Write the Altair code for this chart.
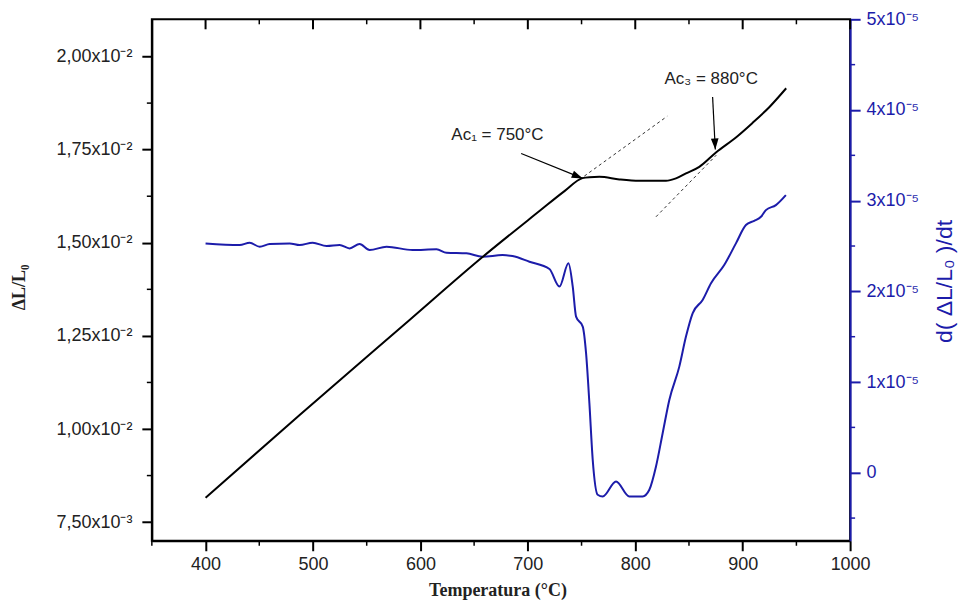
import altair as alt
import pandas as pd

# ---------------- data ----------------
# ΔL/L0 (black curve, left axis)
dl_temp = [400.0, 487.6, 589.9, 657.8, 710.8, 734.1, 750.8, 757.3, 766.6, 785.2,
           803.8, 828.6, 837.9, 847.2, 859.6, 875.4, 894.0, 908.9, 924.7, 940.5]
dl_val = [0.008153, 0.010379, 0.012927, 0.014617, 0.015851, 0.016387, 0.016736,
          0.016762, 0.016770, 0.016700, 0.016663, 0.016663, 0.016728, 0.016862,
          0.017039, 0.017433, 0.017835, 0.018211, 0.018640, 0.019149]

# d(ΔL/L0)/dt (blue curve, right axis) in units of 1e-5
dt_temp = [400.0, 431.8, 441.1, 450.4, 459.7, 478.3, 487.6, 499.7, 512.7, 524.8,
           534.1, 543.4, 552.7, 568.5, 592.7, 615.0, 624.3, 642.9, 657.8, 676.4,
           685.7, 701.5, 720.1, 729.4, 737.8, 741.8, 744.9, 751.1, 754.2, 757.3,
           760.4, 765.0, 769.7, 782.1, 794.5, 806.9, 813.1, 819.3, 825.5, 831.7,
           841.0, 847.2, 853.4, 862.7, 870.5, 882.8, 893.7, 903.0, 910.7, 917.0,
           921.6, 930.9, 940.2]
dt_val = [2.529, 2.511, 2.536, 2.492, 2.522, 2.529, 2.511, 2.536, 2.500, 2.511,
          2.474, 2.522, 2.456, 2.492, 2.456, 2.463, 2.426, 2.419, 2.382, 2.400,
          2.389, 2.327, 2.246, 2.053, 2.309, 2.051, 1.721, 1.611, 1.318, 0.767,
          0.142, -0.243, -0.262, -0.097, -0.262, -0.262, -0.188, 0.069, 0.436, 0.803,
          1.170, 1.501, 1.758, 1.905, 2.089, 2.290, 2.529, 2.731, 2.778, 2.822,
          2.896, 2.951, 3.061]

# dotted tangent lines
tan_id = ["t1", "t1", "t2", "t2"]
tan_temp = [752.6, 829.8, 819.3, 875.4]
tan_val = [0.01679, 0.018398, 0.015698, 0.017352]

# annotations
ann_text = ["Ac\u2081 = 750°C", "Ac\u2083 = 880°C"]
ann_temp = [671.7, 870.7]
ann_val = [0.017889, 0.019391]
arrow_id = ["a1", "a1", "a3", "a3"]
arrow_temp = [693.8, 751.1, 872.0, 874.5]
arrow_val = [0.017398, 0.016728, 0.018916, 0.017505]
head_temp = [751.1, 874.5]
head_val = [0.016728, 0.017505]
head_angle = [292, 357]

# ticks
x_major = [400, 500, 600, 700, 800, 900, 1000]
x_minor = [350, 450, 550, 650, 750, 850, 950]
yl_major = [0.0075, 0.01, 0.0125, 0.015, 0.0175, 0.02]
yl_minor = [0.00875, 0.01125, 0.01375, 0.01625, 0.01875]
yr_major = [0, 1, 2, 3, 4, 5]
yr_minor = [-0.5, 0.5, 1.5, 2.5, 3.5, 4.5]

BLUE = "#1c1caa"
SANS = "Liberation Sans"
SERIF = "Liberation Serif"

df_dl = pd.DataFrame({"T": dl_temp, "v": dl_val})
df_dt = pd.DataFrame({"T": dt_temp, "v": dt_val})
df_tan = pd.DataFrame({"id": tan_id, "T": tan_temp, "v": tan_val})
df_ann = pd.DataFrame({"txt": ann_text, "T": ann_temp, "v": ann_val})
df_arr = pd.DataFrame({"id": arrow_id, "T": arrow_temp, "v": arrow_val})
df_head = pd.DataFrame({"T": head_temp, "v": head_val, "ang": head_angle})
df_xmaj = pd.DataFrame({"T": x_major})
df_xmin = pd.DataFrame({"T": x_minor})
df_ylmin = pd.DataFrame({"v": yl_minor})
df_yrmin = pd.DataFrame({"v": yr_minor})


def xs():
    return alt.Scale(domain=[350, 1000], nice=False, zero=False)


def yl():
    return alt.Scale(domain=[0.0070, 0.0210], nice=False, zero=False)


def yr():
    return alt.Scale(domain=[-0.75, 5.0], nice=False, zero=False)


left_label = ("datum.value < 0.00999 ? replace(format(datum.value*1000, '.2f'), '.', ',') + 'x10\u207b\u00b3'"
              " : replace(format(datum.value*100, '.2f'), '.', ',') + 'x10\u207b\u00b2'")
right_label = "datum.value == 0 ? '0' : format(datum.value, 'd') + 'x10\u207b\u2075'"


def x_axis():
    return alt.Axis(orient="bottom", values=x_major, format="d", tickSize=10, tickWidth=2,
                    tickColor="black", domainColor="black", domainWidth=2, grid=False,
                    labelFlush=False, labelOverlap=False, labelFont=SANS, labelFontSize=18,
                    labelColor="#222", labelPadding=5, title="Temperatura (°C)", titleFont=SERIF,
                    titleFontSize=18, titleFontWeight="bold", titleColor="#222",
                    titleX=346, titleY=50, titleAlign="center", titleBaseline="middle")


def X():
    return alt.X("T:Q", scale=xs(), axis=x_axis())


yl_axis = alt.Axis(orient="left", values=yl_major, labelExpr=left_label, tickSize=10, tickWidth=2,
                   tickColor="black", domainColor="black", domainWidth=2, grid=False,
                   labelFont=SANS, labelFontSize=18, labelColor="#222", labelPadding=10,
                   labelOverlap=False, title="\u0394L/L\u2080", titleFont=SERIF, titleFontSize=18,
                   titleFontWeight="bold", titleColor="#222", titleAngle=270,
                   titleX=-132, titleY=268, titleAlign="center", titleBaseline="middle")

yr_axis = alt.Axis(orient="right", values=yr_major, labelExpr=right_label, tickSize=10,
                   tickWidth=2, tickColor=BLUE, domainColor=BLUE, domainWidth=2, grid=False,
                   labelFont=SANS, labelFontSize=18, labelColor=BLUE, labelPadding=6,
                   labelOverlap=False, title="d( \u0394L/L\u2080 )/dt", titleFont=SANS,
                   titleFontSize=23, titleFontWeight="normal", titleColor=BLUE,
                   titleAngle=270, titleX=94, titleY=262, titleAlign="center",
                   titleBaseline="middle")

blue_line = alt.Chart(df_dt).mark_line(color=BLUE, strokeWidth=2, interpolate="monotone").encode(
    x=X(),
    y=alt.Y("v:Q", scale=yr(), axis=yr_axis),
)
right_minor = alt.Chart(df_yrmin).mark_rule(color=BLUE, strokeWidth=1.5).encode(
    y=alt.Y("v:Q", scale=yr(), axis=None),
    x=alt.value(699), x2=alt.value(704),
)

black_line = alt.Chart(df_dl).mark_line(color="black", strokeWidth=2, interpolate="monotone").encode(
    x=X(),
    y=alt.Y("v:Q", scale=yl(), axis=yl_axis),
)

tangents = alt.Chart(df_tan).mark_line(color="#333", strokeWidth=1, strokeDash=[3, 3]).encode(
    x=X(),
    y=alt.Y("v:Q", scale=yl(), axis=None),
    detail="id:N",
)

arrows = alt.Chart(df_arr).mark_line(color="black", strokeWidth=1.2).encode(
    x=X(),
    y=alt.Y("v:Q", scale=yl(), axis=None),
    detail="id:N",
)

heads = alt.Chart(df_head).mark_point(
    shape="M0,0 L-0.35,-1 L0.35,-1 Z", filled=True, color="black", opacity=1, size=484
).encode(
    x=X(),
    y=alt.Y("v:Q", scale=yl(), axis=None),
    angle=alt.Angle("ang:Q", scale=None),
)

labels = alt.Chart(df_ann).mark_text(font=SANS, fontSize=17, color="#222",
                                     align="center", baseline="middle").encode(
    x=X(),
    y=alt.Y("v:Q", scale=yl(), axis=None),
    text="txt:N",
)

left_minor = alt.Chart(df_ylmin).mark_rule(color="black", strokeWidth=1.5).encode(
    y=alt.Y("v:Q", scale=yl(), axis=None),
    x=alt.value(-5), x2=alt.value(0),
)

top_major = alt.Chart(df_xmaj).mark_rule(color="black", strokeWidth=2).encode(
    x=X(),
    y=alt.value(0), y2=alt.value(10),
)
top_minor = alt.Chart(df_xmin).mark_rule(color="black", strokeWidth=1.5).encode(
    x=X(),
    y=alt.value(0), y2=alt.value(5),
)
bottom_minor = alt.Chart(df_xmin).mark_rule(color="black", strokeWidth=1.5).encode(
    x=X(),
    y=alt.value(522), y2=alt.value(527),
)

chart = alt.layer(
    blue_line, right_minor, black_line, tangents, arrows, heads, labels, left_minor,
    top_major, top_minor, bottom_minor
).resolve_scale(y="independent").properties(
    width=699, height=522,
    background="white",
    autosize=alt.AutoSizeParams(type="none"),
    padding={"left": 144, "top": 11, "right": 108, "bottom": 60},
).configure_view(stroke="black", strokeWidth=2)

chart.save("out.html", embed_options={"renderer": "svg", "actions": False})
